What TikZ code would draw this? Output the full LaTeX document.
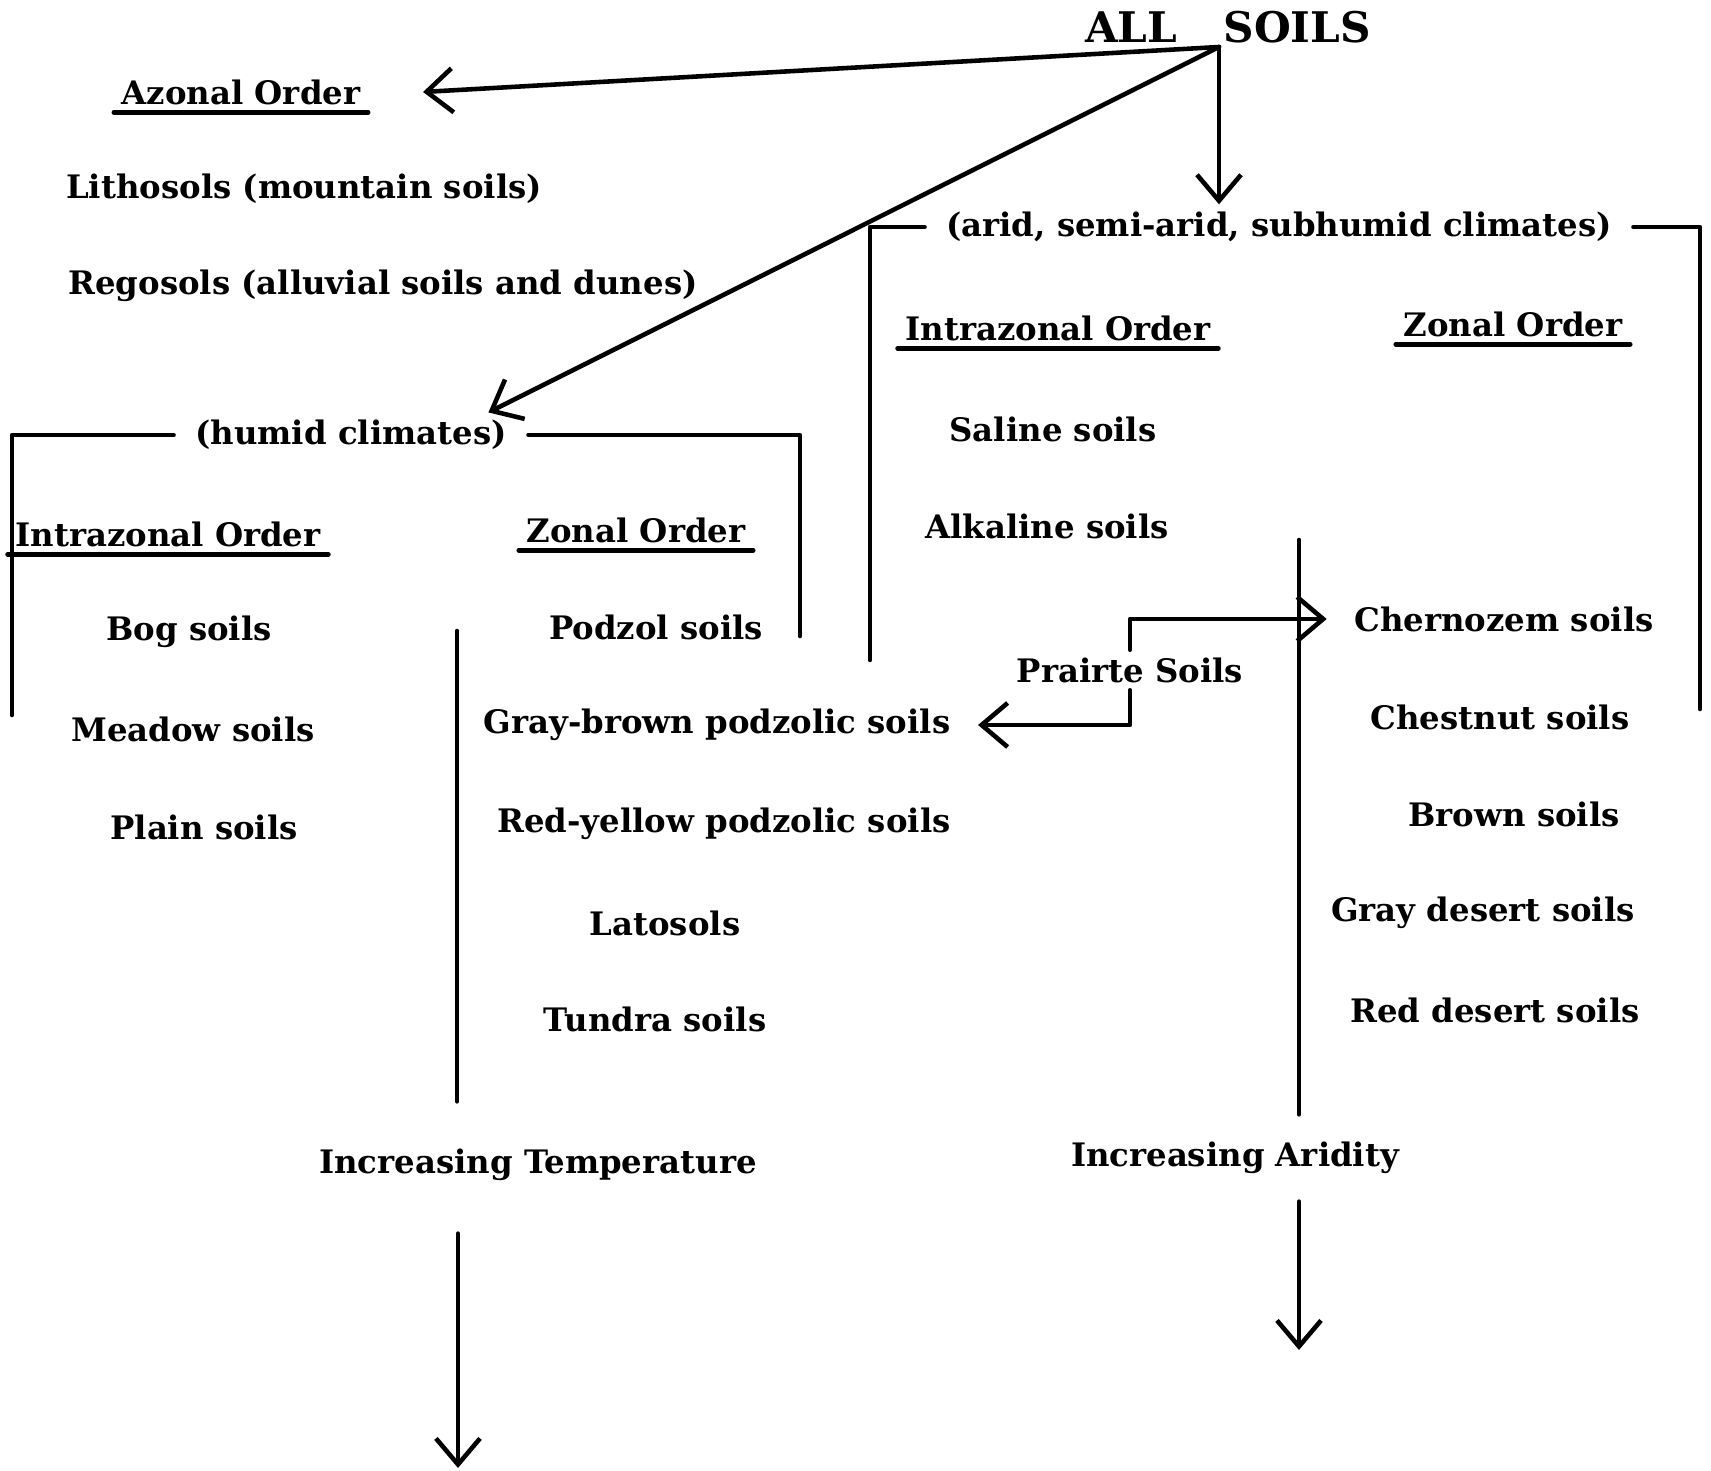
\documentclass[tikz,border=0pt]{standalone}
\usepackage{fontspec}
\setmainfont{DejaVu Serif}
\usepackage{tikz}
\usetikzlibrary{arrows.meta}
\usetikzlibrary{positioning}

\begin{document}
\begin{tikzpicture}[x=0.01cm, y=-0.01cm,
    every node/.style={font=\bfseries\fontsize{9.2}{11}\selectfont, inner sep=2pt},
    line/.style={line width=1.3pt, line cap=round, line join=round},
    arr/.style={line, -{Straight Barb[length=2.6mm, width=4.4mm, line width=1.3pt]}},
    ulined/.style={line width=1.4pt, line cap=round},
    bracket/.style={inner xsep=6pt}]
  \useasboundingbox (0,0) rectangle (1711,1471);

  % Top
  \node[font=\bfseries\fontsize{12}{14}\selectfont] (allsoils) at (1228,27) {ALL\hspace{1.1em}SOILS};
  \coordinate (hub) at (1219,47);

  % Azonal order
  \node (azonal) at (241,92) {Azonal Order};
  \draw[ulined] (azonal.south west) -- (azonal.south east);
  \node (litho) at (304,189) {Lithosols (mountain soils)};
  \node (rego) at (383,286) {Regosols (alluvial soils and dunes)};

  % Humid climates
  \node[bracket] (humid) at (351,435) {(humid climates)};
  \node (intraL) at (168,534) {Intrazonal Order};
  \draw[ulined] (intraL.south west) -- (intraL.south east);
  \node (zonalL) at (636,530) {Zonal Order};
  \draw[ulined] (zonalL.south west) -- (zonalL.south east);
  \node (bog) at (189,632) {Bog soils};
  \node (meadow) at (193,729) {Meadow soils};
  \node (plain) at (204,827) {Plain soils};
  \node (podzol) at (656,627) {Podzol soils};
  \node (graybrown) at (717,725) {Gray-brown podzolic soils};
  \node (redyellow) at (724,824) {Red-yellow podzolic soils};
  \node (latosols) at (665,923) {Latosols};
  \node (tundra) at (655,1019) {Tundra soils};
  \node (temp) at (538,1165) {Increasing Temperature};

  % Arid climates
  \node[bracket] (arid) at (1279,227) {(arid, semi-arid, subhumid climates)};
  \node (intraR) at (1058,328) {Intrazonal Order};
  \draw[ulined] (intraR.south west) -- (intraR.south east);
  \node (zonalR) at (1513,324) {Zonal Order};
  \draw[ulined] (zonalR.south west) -- (zonalR.south east);
  \node (saline) at (1053,429) {Saline soils};
  \node (alkaline) at (1047,526) {Alkaline soils};
  \node (prairie) at (1130,670) {Prairte Soils};
  \node (chern) at (1504,619) {Chernozem soils};
  \node (chest) at (1500,717) {Chestnut soils};
  \node (brown) at (1514,814) {Brown soils};
  \node (graydes) at (1483,913) {Gray desert soils};
  \node (reddes) at (1495,1010) {Red desert soils};
  \node (aridity) at (1235,1158) {Increasing Aridity};

  % Arrows from the top
  \draw[arr] (hub) -- ([xshift=0.55cm]azonal.east);
  \draw[arr] (hub) -- ([xshift=-0.4cm]humid.north east);
  \draw[arr] (hub) -- (hub |- arid.north);

  % Brackets
  \coordinate (hL) at (12,715);
  \coordinate (hR) at (800,636);
  \coordinate (aL) at (870,660);
  \coordinate (aR) at (1700,709);
  \draw[line] (humid.west) -| (hL);
  \draw[line] (humid.east) -| (hR);
  \draw[line] (arid.west) -| (aL);
  \draw[line] (arid.east) -| (aR);

  % Gradients
  \coordinate (t1) at (457,631);
  \coordinate (t2) at (458,1468);
  \draw[line] (t1) -- ([yshift=0.4cm]t1 |- temp.north);
  \draw[arr] ([yshift=-0.45cm]t2 |- temp.south) -- (t2);
  \coordinate (a1) at (1299,540);
  \coordinate (a2) at (1299,1350);
  \draw[line] (a1) -- ([yshift=0.2cm]a1 |- aridity.north);
  \draw[arr] ([yshift=-0.2cm]a2 |- aridity.south) -- (a2);

  % Prairie soils
  \draw[arr] (prairie.north) |- ([xshift=-0.2cm]chern.west);
  \draw[arr] (prairie.south) |- ([xshift=0.2cm]graybrown.east);

\end{tikzpicture}
\end{document}
